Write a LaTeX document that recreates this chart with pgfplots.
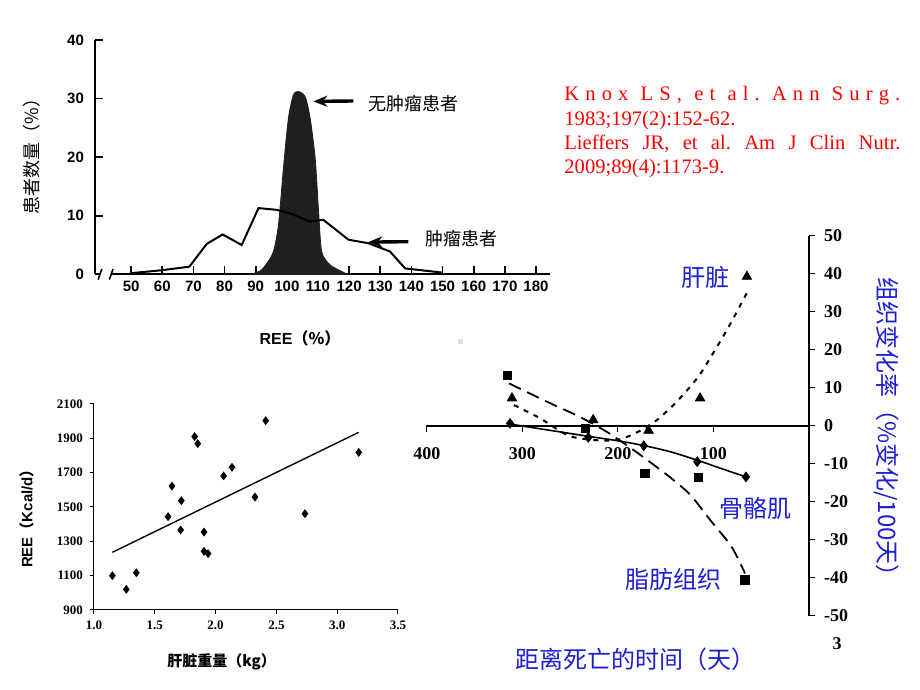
\documentclass[border=0pt]{standalone}
\usepackage{fontspec}
\setmainfont{Liberation Serif}
\newfontfamily\cjk{Noto Sans CJK SC}
\newfontfamily\arial{Liberation Sans}
\usepackage{pgfplots}
\pgfplotsset{compat=1.18}
\usetikzlibrary{arrows.meta}
\definecolor{myblue}{RGB}{30,30,210}
\definecolor{myred}{RGB}{255,0,0}
\frenchspacing
\begin{document}
\begin{tikzpicture}
\path[fill=white,use as bounding box] (0,0) rectangle (460pt,345pt);

% ---------------- Chart 1 ----------------
\begin{axis}[
  at={(47.5pt,207.85pt)}, anchor=south west,
  scale only axis, width=227.5pt, height=117.15pt,
  xmin=38.4, xmax=184.5, ymin=0, ymax=40,
  axis x line=bottom, axis y line=left,
  axis line style={-, line width=0.9pt},
  xtick={50,60,70,80,90,100,110,120,130,140,150,160,170,180},
  ytick={0,10,20,30,40},
  tick align=inside, major tick length=4pt,
  tick style={line width=0.8pt, black},
  ticklabel style={font=\arial\bfseries\fontsize{7.5}{8}\selectfont},
  /pgf/number format/assume math mode=true,
  yticklabel style={xshift=-2pt},
  clip=false,
]
\addplot[fill=black!88, draw=black!88, smooth, tension=0.45] coordinates {
 (88.5,0) (91.5,0.6) (93.6,1.9) (95.7,3.9) (97.3,8.4) (98.9,18.1) (100.5,26.6)
 (102.1,30.6) (103.7,31.2) (105.9,30.3) (107.5,26.6) (109.1,19.8) (110.2,10.7)
 (111.2,3.9) (113.9,1.6) (118.7,0.2) (119.5,0)} \closedcycle;
\addplot[black, line width=1pt, no marks] coordinates {
 (50.2,0.2) (59.9,0.7) (68.7,1.3) (74.3,5.2) (79.4,6.8) (85.5,5.0) (90.9,11.3)
 (96.8,11.0) (101,10.4) (107.5,9.0) (111.7,9.3) (119.8,5.9) (126.2,5.3)
 (133.1,3.9) (138,1.0) (149.7,0.3)};
\fill[white] (axis cs:40.0,-0.7) rectangle (axis cs:43.6,0.7);
\draw[line width=0.8pt] (axis cs:39.4,-0.9) -- (axis cs:40.6,0.9);
\draw[line width=0.8pt] (axis cs:43.0,-0.9) -- (axis cs:44.2,0.9);
\end{axis}

\draw[-{Stealth[length=7pt,width=5.5pt]}, line width=1.7pt] (176.65pt,294.5pt) -- (156.65pt,294.3pt);
\draw[-{Stealth[length=7pt,width=5.5pt]}, line width=1.7pt] (204.15pt,224.15pt) -- (184.15pt,223.95pt);
\node[font=\cjk\fontsize{9}{10}\selectfont] at (206.5pt,293pt) {无肿瘤患者};
\node[font=\cjk\fontsize{9}{10}\selectfont] at (230.75pt,225.85pt) {肿瘤患者};
\node[rotate=90, font=\cjk\fontsize{9}{10}\selectfont] at (16pt,269pt) {患者数量（\%）};
\node[font=\bfseries\fontsize{8}{9}\selectfont] at (150pt,176pt) {{\arial REE}{\cjk（\%）}};
\fill[gray!25] (228.8pt,172.8pt) rectangle (231.3pt,175.3pt);

% ---------------- Chart 2 ----------------
\begin{axis}[
  at={(47pt,40pt)}, anchor=south west,
  scale only axis, width=152pt, height=103pt,
  xmin=1, xmax=3.5, ymin=900, ymax=2100,
  axis x line=bottom, axis y line=left,
  axis line style={-, line width=0.5pt},
  xtick={1,1.5,2,2.5,3,3.5},
  xticklabels={1.0,1.5,2.0,2.5,3.0,3.5},
  ytick={900,1100,1300,1500,1700,1900,2100},
  /pgf/number format/1000 sep={},
  tick align=outside, major tick length=2pt,
  tick style={black, line width=0.5pt},
  ticklabel style={font=\bfseries\fontsize{6.5}{7}\selectfont},
  /pgf/number format/assume math mode=true,
  clip=false,
]
\addplot[only marks, mark=diamond*, mark size=1.9pt, black] coordinates {
 (1.151,1100) (1.266,1020) (1.348,1117) (1.609,1444) (1.641,1622) (1.718,1537)
 (1.713,1366) (1.828,1910) (1.853,1869) (1.905,1354) (1.905,1242) (1.938,1228)
 (2.066,1681) (2.135,1731) (2.324,1558) (2.412,2003) (2.735,1461) (3.177,1818)};
\addplot[black, line width=0.7pt, no marks] coordinates {(1.151,1236) (3.177,1935)};
\end{axis}
\node[rotate=90, font=\bfseries\fontsize{7.5}{8}\selectfont] at (13.3pt,87.5pt) {{\arial REE}{\cjk（}{\arial Kcal/d}{\cjk）}};
\node[font=\cjk\bfseries\fontsize{7.5}{8}\selectfont] at (110.8pt,14.2pt) {肝脏重量（kg）};

% ---------------- Chart 3 ----------------
\begin{axis}[
  at={(213pt,37pt)}, anchor=south west,
  scale only axis, width=191.5pt, height=190pt,
  xmin=0, xmax=401, ymin=-50, ymax=50, x dir=reverse,
  axis x line=middle, axis y line=right,
  axis line style={-, line width=0.6pt},
  hide obscured x ticks=false, hide obscured y ticks=false,
  xtick={100,200,300,400},
  ytick={-50,-40,-30,-20,-10,0,10,20,30,40,50},
  yticklabels={{-50},{-40},{-30},{-20},{-10},{0},{10},{20},{30},{40},{50}},
  tick align=outside, major tick length=3pt,
  tick style={black, line width=0.5pt},
  ticklabel style={font=\bfseries\fontsize{9}{10}\selectfont},
  /pgf/number format/assume math mode=true,
  xticklabel style={yshift=-4pt},
  yticklabel style={anchor=west, xshift=1pt},
  clip=false,
]
\addplot[black, line width=0.8pt, no marks, smooth] coordinates {
 (313,0.5) (234,-2.6) (200,-3.9) (172,-5.2) (145,-6.8) (117,-9.0) (93,-11.1) (66,-13.4)};
\addplot[black, line width=0.9pt, no marks, smooth, dash pattern=on 6.5pt off 3.5pt] coordinates {
 (314,11.2) (271,6.0) (240,2.4) (212,-1.5) (185,-6.1) (160,-10.7) (142,-14.2)
 (124,-18.2) (102,-25.2) (81,-31.8) (67,-38.8)};
\addplot[black, line width=1pt, no marks, smooth, dash pattern=on 2.5pt off 3pt] coordinates {
 (309,5.5) (282,2.1) (251,-2.6) (219,-3.8) (200,-3.6) (188,-2.6) (172,-0.6)
 (159,1.6) (142,5.5) (128,9.3) (117,12.6) (109,15.6) (90,23.5) (81,27.5) (64,35.5)};
\addplot[only marks, mark=square*, mark size=2.1pt, black] coordinates {
 (316,13.3) (234,-0.6) (172,-12.5) (116,-13.6) (67,-40.5)};
\addplot[only marks, mark=triangle*, mark size=2.7pt, black] coordinates {
 (311,7.3) (226,1.6) (168,-1.2) (114,7.3) (65,39.3)};
\addplot[only marks, mark=diamond*, mark size=2.4pt, black] coordinates {
 (313,0.7) (231,-3.0) (173,-5.2) (117,-9.4) (66,-13.4)};
\end{axis}
\node[font=\cjk\fontsize{12}{13}\selectfont, text=myblue] at (352.5pt,206.5pt) {肝脏};
\node[font=\cjk\fontsize{12}{13}\selectfont, text=myblue] at (377.5pt,91pt) {骨骼肌};
\node[font=\cjk\fontsize{12}{13}\selectfont, text=myblue] at (336.5pt,55.5pt) {脂肪组织};
\node[font=\cjk\fontsize{12}{13}\selectfont, text=myblue] at (317.5pt,15.5pt) {距离死亡的时间（天）};
\node[rotate=-90, font=\cjk\fontsize{12}{13}\selectfont, text=myblue] at (443.5pt,128.5pt) {组织变化率（\%变化/100天）};
\node[font=\bfseries\fontsize{9}{10}\selectfont] at (418.5pt,23pt) {3};

% ---------------- References ----------------
\begin{scope}[every node/.style={anchor=base west, inner sep=0pt, text=myred, font=\fontsize{10.3}{12}\selectfont}]
\node at (282pt,294.65pt) {\makebox[168pt][s]{K\hfill n\hfill o\hfill x\hfill\hfill L\hfill S\hfill ,\hfill\hfill e\hfill t\hfill\hfill a\hfill l\hfill .\hfill\hfill A\hfill n\hfill n\hfill\hfill S\hfill u\hfill r\hfill g\hfill .}};
\node at (282pt,282pt) {1983;197(2):152-62.};
\node at (282pt,270pt) {\makebox[168pt][s]{Lieffers JR, et al. Am J Clin Nutr.}};
\node at (282pt,258pt) {2009;89(4):1173-9.};
\end{scope}
\end{tikzpicture}
\end{document}
